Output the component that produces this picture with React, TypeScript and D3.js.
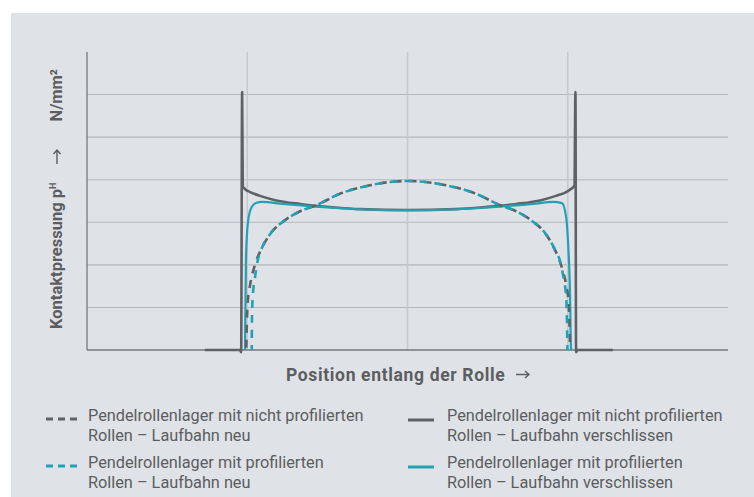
import * as d3 from "d3";
import React from "react";

// data units: position along roller (-100..100), contact pressure (0..7, no scale shown)
const xGrid = [-50, 0, 50];
const yGrid = [1, 2, 3, 4, 5, 6];

// non-profiled rollers, worn raceway (edge spikes)
const plainWorn: [number, number][] = [
  [-63.2, 0], [-52.3, 0], [-51.9, -0.05], [-51.6, 6.06], [-51.4, 3.85],
  [-50.7, 3.78], [-49.1, 3.71], [-46.0, 3.62], [-41.3, 3.52], [-33.5, 3.43],
  [-24.2, 3.36], [-14.8, 3.31], [0, 3.29], [15.1, 3.31], [24.5, 3.36],
  [33.9, 3.43], [41.7, 3.52], [46.3, 3.62], [49.5, 3.71], [51.0, 3.78],
  [52.1, 3.87], [52.4, 6.06], [52.6, -0.05], [53.0, 0], [64.1, 0],
];

// profiled rollers, worn raceway
const profiledWorn: [number, number][] = [
  [-50.7, 0], [-50.6, 0.87], [-50.4, 2.11], [-50.1, 2.7], [-49.7, 3.05],
  [-48.6, 3.36], [-47.1, 3.46], [-45.4, 3.48], [-39.8, 3.44], [-30.4, 3.38],
  [-21.1, 3.33], [0, 3.28], [21.4, 3.33], [30.7, 3.38], [40.1, 3.44],
  [45.4, 3.48], [48.2, 3.45], [49.5, 3.12], [50.1, 2.52], [50.7, 1.34],
  [51.0, 0.07], [51.1, 0],
];

// non-profiled rollers, new raceway
const plainNew: [number, number][] = [
  [-50.3, 0.05], [-50.1, 0.7], [-49.8, 1.17], [-49.1, 1.53], [-47.6, 2.0],
  [-45.4, 2.4], [-42.9, 2.72], [-38.2, 3.05], [-33.5, 3.26], [-28.5, 3.4],
  [-21.1, 3.67], [-11.7, 3.87], [0, 3.97], [12.0, 3.87], [21.4, 3.67],
  [28.9, 3.4], [33.9, 3.26], [38.5, 3.05], [43.2, 2.72], [45.7, 2.4],
  [47.9, 2.0], [49.5, 1.53], [50.2, 1.17], [50.5, 0.7], [50.7, 0.12],
];

// profiled rollers, new raceway
const profiledNew: [number, number][] = [
  [-48.6, 0], [-48.5, 0.87], [-48.2, 1.34], [-47.7, 1.64], [-47.0, 2.0],
  [-45.4, 2.4], [-42.9, 2.72], [-38.2, 3.05], [-33.5, 3.26], [-28.5, 3.4],
  [-21.1, 3.67], [-11.7, 3.87], [0, 3.97], [12.0, 3.87], [21.4, 3.67],
  [28.9, 3.4], [33.9, 3.26], [38.5, 3.05], [43.2, 2.72], [45.7, 2.4],
  [47.9, 2.0], [48.8, 1.64], [49.4, 1.34], [49.7, 0.87], [49.9, 0],
];

const legendLeft = [
  ["Pendelrollenlager mit nicht profilierten", "Rollen – Laufbahn neu"],
  ["Pendelrollenlager mit profilierten", "Rollen – Laufbahn neu"],
];
const legendRight = [
  ["Pendelrollenlager mit nicht profilierten", "Rollen – Laufbahn verschlissen"],
  ["Pendelrollenlager mit profilierten", "Rollen – Laufbahn verschlissen"],
];

const GRAY = "#606164";
const TEAL = "#22a1b5";
const TEXT = "#5b5d60";
const FONT = "Roboto, 'Noto Sans', sans-serif";

export default function App() {
  const W = 754, H = 497;
  const x = d3.scaleLinear().domain([-100, 100]).range([87, 728]);
  const y = d3.scaleLinear().domain([0, 7]).range([350, 52]);
  const line = d3.line<[number, number]>()
    .x((d) => x(d[0]))
    .y((d) => y(d[1]))
    .curve(d3.curveMonotoneX);

  return (
    <svg width={W} height={H} style={{ position: "absolute", left: 0, top: 0, display: "block" }}>
      <rect x={0} y={0} width={W} height={H} fill="#fff" />
      <rect x={11} y={13} width={W - 11} height={H - 13} fill="#dfe3e7" />

      {yGrid.map((v) => (
        <line key={"h" + v} x1={x(-100)} x2={x(100)} y1={y(v)} y2={y(v)} stroke="#b4b7bb" strokeWidth={1.1} />
      ))}
      {xGrid.map((v) => (
        <line key={"v" + v} x1={x(v)} x2={x(v)} y1={y(0)} y2={y(7)} stroke="#c6cacf" strokeWidth={1.6} />
      ))}
      <line x1={x(-100)} x2={x(-100)} y1={y(0)} y2={y(7)} stroke="#76787b" strokeWidth={1.3} />
      <line x1={x(-100)} x2={x(100)} y1={y(0)} y2={y(0)} stroke="#76787b" strokeWidth={1.3} />

      <path d={line(plainWorn) ?? ""} fill="none" stroke={GRAY} strokeWidth={2.6} strokeLinejoin="round" />
      <path d={line(profiledWorn) ?? ""} fill="none" stroke={TEAL} strokeWidth={2.2} />
      <path d={line(plainNew) ?? ""} fill="none" stroke={GRAY} strokeWidth={2.6} strokeDasharray="8 7" />
      <path d={line(profiledNew) ?? ""} fill="none" stroke={TEAL} strokeWidth={2.6} strokeDasharray="8 7" strokeDashoffset={3} />

      {/* y axis title */}
      <g transform="translate(62,0) rotate(-90)" fontFamily={FONT} fontWeight="bold" fill={TEXT}>
        <text x={-329} y={0} fontSize={16.5}>
          Kontaktpressung p<tspan fontSize={9} dy={-6.5}>H</tspan>
        </text>
        <text x={-69} y={0} fontSize={16.5} textAnchor="end">N/mm²</text>
      </g>
      <path d="M57,164 V150 M53.5,154 L57,150 L60.5,154" fill="none" stroke={TEXT} strokeWidth={1.4} />

      {/* x axis title */}
      <text x={286} y={381} fontFamily={FONT} fontWeight="bold" fontSize={17.5} letterSpacing={0.65} fill={TEXT}>
        Position entlang der Rolle
      </text>
      <path d="M516,374.5 H529 M525,371 L529,374.5 L525,378" fill="none" stroke={TEXT} strokeWidth={1.4} />

      {legendLeft.map((lines, i) => (
        <g key={"ll" + i} transform={`translate(0,${421 + i * 47})`}>
          <line x1={46} x2={78} y1={-2} y2={-2} stroke={i === 0 ? GRAY : TEAL} strokeWidth={3} strokeDasharray="7 5" />
          {lines.map((t, j) => (
            <text key={j} x={88} y={j * 19.5} fontFamily={FONT} fontSize={16.3} fill={TEXT}>{t}</text>
          ))}
        </g>
      ))}
      {legendRight.map((lines, i) => (
        <g key={"lr" + i} transform={`translate(0,${421 + i * 47})`}>
          <line x1={408} x2={434} y1={-1} y2={-1} stroke={i === 0 ? GRAY : TEAL} strokeWidth={3} />
          {lines.map((t, j) => (
            <text key={j} x={447} y={j * 19.5} fontFamily={FONT} fontSize={16.3} fill={TEXT}>{t}</text>
          ))}
        </g>
      ))}
    </svg>
  );
}
